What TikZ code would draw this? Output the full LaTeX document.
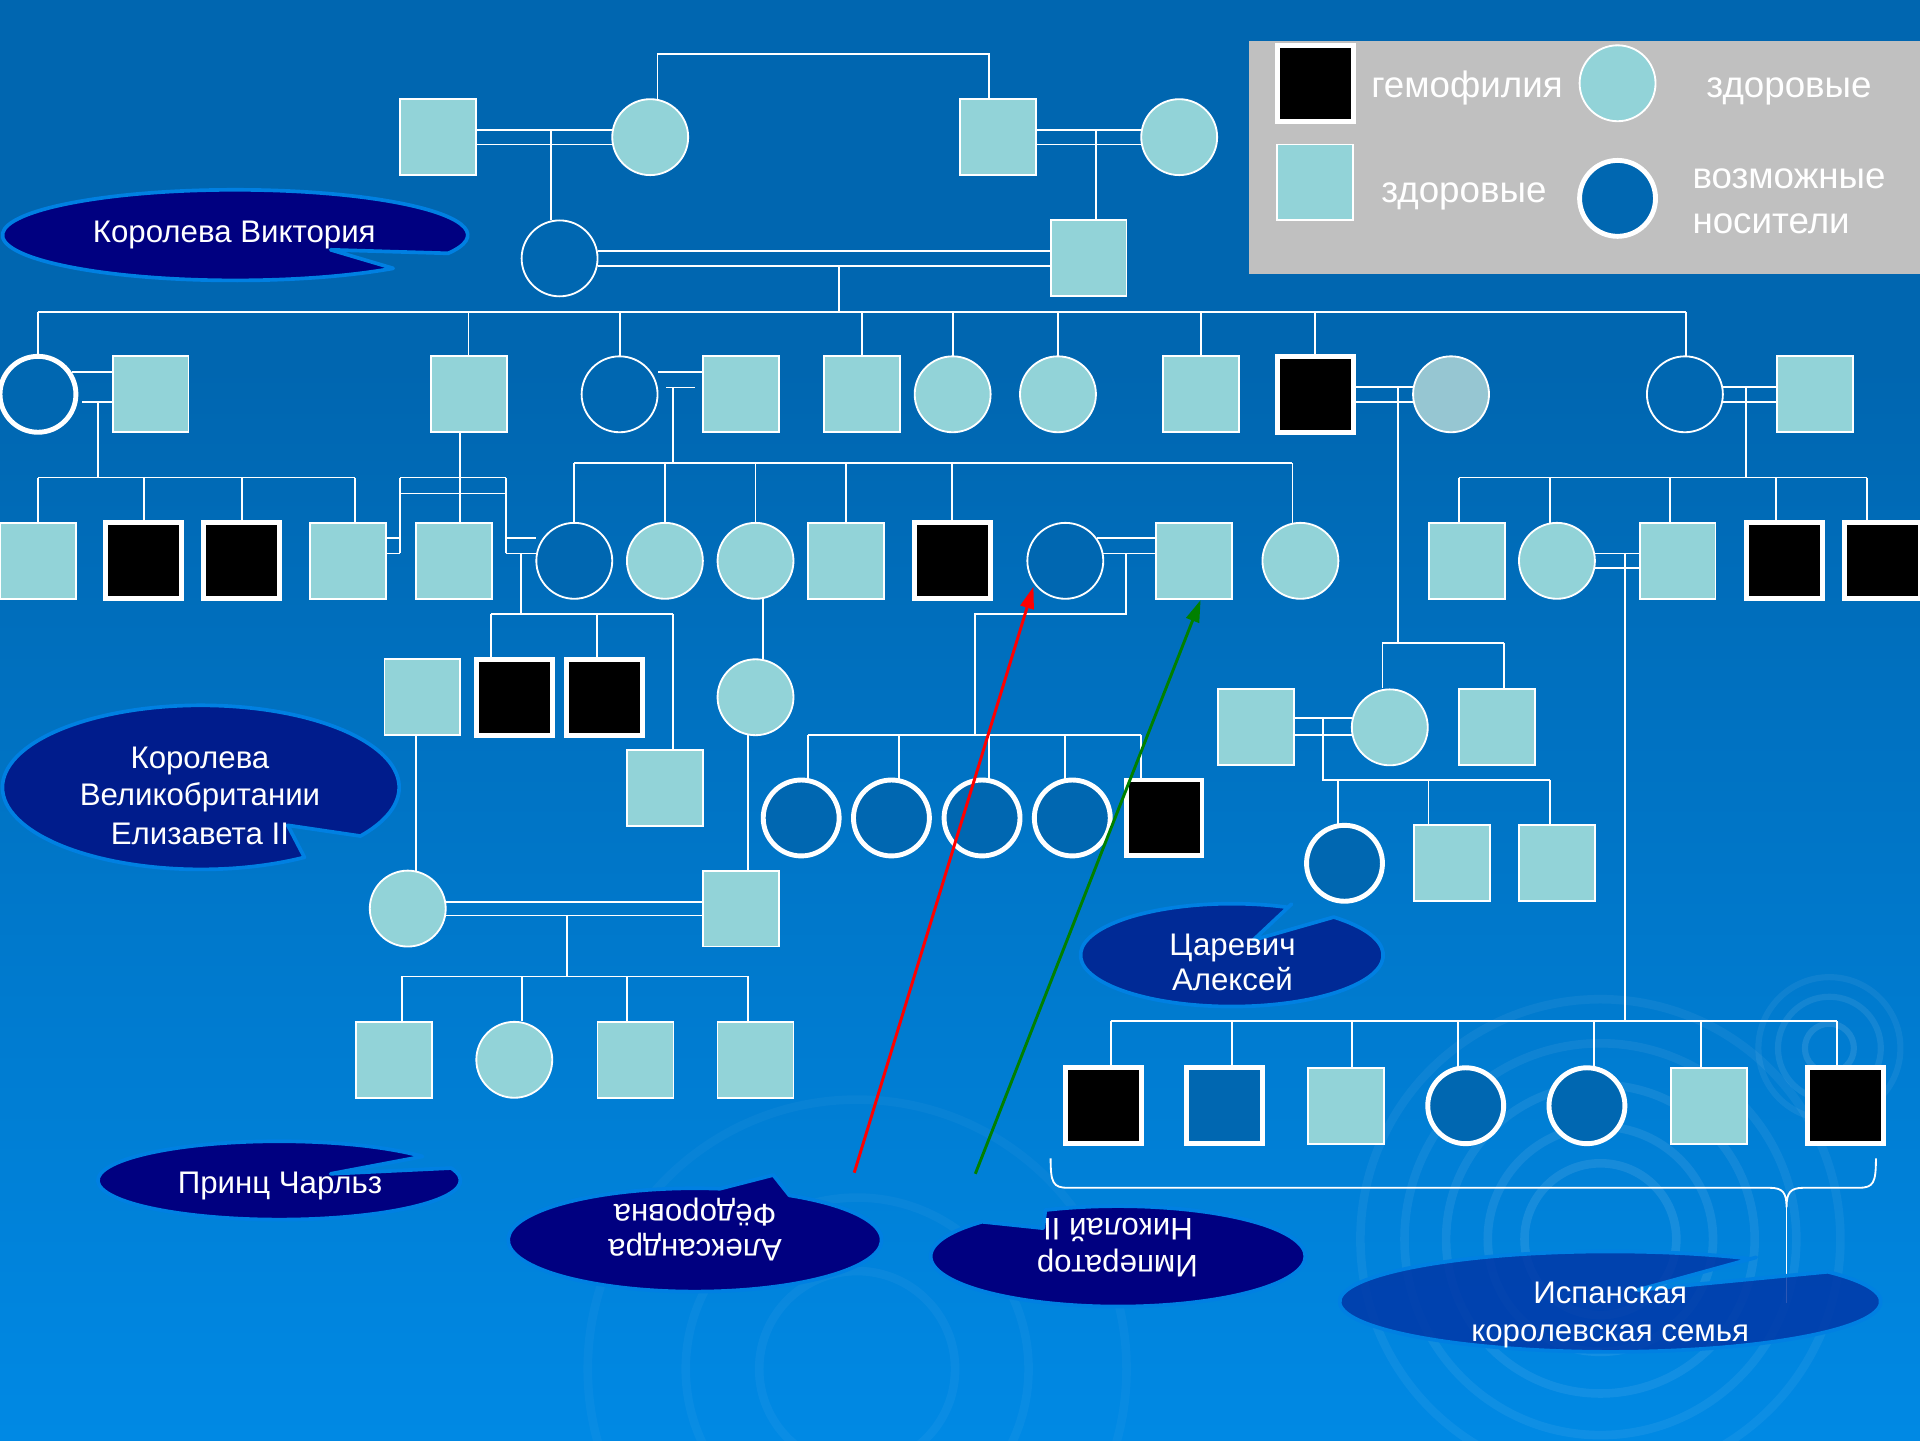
\documentclass[tikz,border=0pt]{standalone}
\usepackage{fontspec}
\setmainfont{Liberation Sans}
\usetikzlibrary{arrows.meta}
\definecolor{bgtop}{RGB}{0,102,176}
\definecolor{bgbot}{RGB}{0,137,228}
\definecolor{cyanf}{RGB}{146,211,216}
\definecolor{grayc}{RGB}{150,198,210}
\definecolor{carrier}{RGB}{0,103,177}
\definecolor{navyc}{RGB}{0,0,128}
\definecolor{navyb}{RGB}{0,28,140}
\definecolor{navyd}{RGB}{0,42,150}
\definecolor{spanc}{RGB}{0,52,165}
\definecolor{cedge}{RGB}{0,128,226}
\definecolor{legendgray}{RGB}{192,192,192}
\definecolor{arrgreen}{RGB}{0,128,0}
\begin{document}
\begin{tikzpicture}[x=1pt,y=-1pt,
 ln/.style={draw=white,line width=1.5pt},
 hsq/.style={rectangle,draw=white,line width=1.5pt,fill=cyanf,minimum size=62pt,inner sep=0pt},
 hci/.style={circle,draw=white,line width=1.5pt,fill=cyanf,minimum size=62pt,inner sep=0pt},
 asq/.style={rectangle,draw=white,line width=4pt,fill=black,minimum size=62pt,inner sep=0pt},
 bsq/.style={rectangle,draw=white,line width=4pt,fill=carrier,minimum size=62pt,inner sep=0pt},
 cthin/.style={circle,draw=white,line width=1.5pt,fill=carrier,minimum size=62pt,inner sep=0pt},
 cthick/.style={circle,draw=white,line width=4pt,fill=carrier,minimum size=62pt,inner sep=0pt},
 callout/.style={draw=cedge,line width=3pt,line join=round},
 ctext/.style={text=white,font=\fontsize{25.5}{30}\selectfont,anchor=base,inner sep=0pt},
 ltext/.style={text=white,font=\fontsize{30}{36}\selectfont,anchor=base,inner sep=0pt},
 ripple/.style={draw=white,line width=7pt},
 arr/.style={line width=2.4pt,-{Triangle[length=18pt,width=11pt]}}
]
\useasboundingbox (0,0) rectangle (1568,1176);
% background
\fill[bgtop] (0,0) rectangle (1568,301);
\shade[top color=bgtop,bottom color=bgbot] (0,300) rectangle (1568,1176);
% ripples
\begin{scope}
\clip (0,0) rectangle (1568,1176);
\foreach \r/\o in {62/0.09,92/0.08,126/0.07,160/0.06,196/0.05}
  \draw[ripple,opacity=\o] (1307,1012) circle[radius=\r];
\foreach \r/\o in {20/0.1,42/0.08,58/0.06}
  \draw[ripple,line width=5pt,opacity=\o] (1494,856) circle[radius=\r];
\foreach \r/\o in {80/0.04,140/0.035,220/0.03}
  \draw[ripple,opacity=\o] (700,1118) circle[radius=\r];
\end{scope}

% ---------- lines ----------
% gen I
\draw[ln] (537,81) -- (537,44) -- (808,44) -- (808,81);
\draw[ln] (389,106) -- (500,106) (389,118) -- (500,118);
\draw[ln] (450,106) -- (450,180);
\draw[ln] (846,106) -- (932,106) (846,118) -- (932,118);
\draw[ln] (895,106) -- (895,180);
% gen II
\draw[ln] (488,205) -- (858,205) (488,217) -- (858,217);
\draw[ln] (685,217) -- (685,254.5);
\draw[ln] (31,254.5) -- (1376.6,254.5);
\foreach \x in {31,382.6,506,704,778,864,981,1074,1376.6} \draw[ln] (\x,254.5) -- (\x,291);
% gen III marriages
\draw[ln] (59,304) -- (92,304) (67,328.5) -- (92,328.5);
\draw[ln] (80,328.5) -- (80,390);
\draw[ln] (537.6,303.5) -- (574,303.5) (544,316.4) -- (567.6,316.4);
\draw[ln] (549.4,316.4) -- (549.4,378);
\draw[ln] (1106,316) -- (1155,316) (1106,328.5) -- (1155,328.5);
\draw[ln] (1142,316) -- (1142,525.4);
\draw[ln] (1402.6,316) -- (1451,316) (1402.6,328.5) -- (1451,328.5);
\draw[ln] (1426,316) -- (1426,390);
% gen IV
\draw[ln] (31,390) -- (290,390);
\foreach \x in {31,117.5,197.5,290} \draw[ln] (\x,390) -- (\x,427);
\draw[ln] (327,390) -- (413,390) (327,403) -- (413,403);
\draw[ln] (327,390) -- (327,452) (413,390) -- (413,452);
\draw[ln] (315,439.5) -- (327,439.5) (315,452) -- (327,452);
\draw[ln] (413,439.5) -- (438,439.5) (413,452) -- (438,452);
\draw[ln] (376,353) -- (376,427);
\draw[ln] (425.6,452) -- (425.6,501.4);
\draw[ln] (401,501.4) -- (549.6,501.4);
\draw[ln] (401,501.4) -- (401,538) (487.6,501.4) -- (487.6,538) (549.6,501.4) -- (549.6,612);
\draw[ln] (469,378) -- (1055.5,378);
\foreach \x in {469,543,617,691,777.6,1055.5} \draw[ln] (\x,378) -- (\x,427);
\draw[ln] (895.5,439.5) -- (944,439.5) (900.5,452) -- (944,452);
\draw[ln] (919.6,452) -- (919.6,501.4) -- (796.5,501.4) -- (796.5,600);
\draw[ln] (660,600) -- (931.5,600);
\foreach \x in {660,734,808,870,931.5} \draw[ln] (\x,600) -- (\x,636);
\draw[ln] (1191.5,390) -- (1524.7,390);
\foreach \x in {1191.5,1266,1364,1450.5,1524.7} \draw[ln] (\x,390) -- (\x,427);
\draw[ln] (1302.6,452) -- (1339,452) (1302.6,464) -- (1339,464);
\draw[ln] (1327,452) -- (1327,834);
% Leopold branch
\draw[ln] (1129,525.4) -- (1228,525.4);
\draw[ln] (1129,525.4) -- (1129,562) (1228,525.4) -- (1228,562);
\draw[ln] (1056.5,586.6) -- (1104,586.6) (1056.5,600) -- (1104,600);
\draw[ln] (1080.5,586.6) -- (1080.5,637) -- (1265.6,637);
\foreach \x in {1092.5,1166.6,1265.6} \draw[ln] (\x,637) -- (\x,673.7);
% gen V / VI
\draw[ln] (623,489) -- (623,538);
\draw[ln] (339.6,600) -- (339.6,711) (611,600) -- (611,711);
\draw[ln] (364,736.4) -- (574,736.4) (364,747.6) -- (574,747.6);
\draw[ln] (463,747.6) -- (463,797.4);
\draw[ln] (328,797.4) -- (611,797.4);
\foreach \x in {328,426,512,611} \draw[ln] (\x,797.4) -- (\x,834);
% Spanish
\draw[ln] (907,834) -- (1500,834);
\foreach \x in {907,1006,1104,1191,1302,1389,1500} \draw[ln] (\x,834) -- (\x,872);
% brace
\draw[ln] (858,946) .. controls (858,966) and (860,970) .. (872,970) -- (1445,970)
  .. controls (1456,970) and (1459,974) .. (1459,986)
  .. controls (1459,974) and (1462,970) .. (1473,970) -- (1518,970)
  .. controls (1530,970) and (1532,966) .. (1532,946);
\draw[ln] (1459,986) -- (1459,1064);

% ---------- nodes ----------
\node[hsq] (a1) at (358,112) {};
\node[hci] (a2) at (531,112) {};
\node[hsq] (a3) at (815,112) {};
\node[hci] (a4) at (963,112) {};
\node[cthin] (b1) at (457,211) {};
\node[hsq] (b2) at (889,211) {};
\node[cthick] (c1) at (31,322) {};
\node[hsq] (c2) at (123,322) {};
\node[hsq] (c3) at (383,322) {};
\node[cthin] (c4) at (506,322) {};
\node[hsq] (c5) at (605,322) {};
\node[hsq] (c6) at (704,322) {};
\node[hci] (c7) at (778,322) {};
\node[hci] (c8) at (864,322) {};
\node[hsq] (c9) at (981,322) {};
\node[asq] (c10) at (1074,322) {};
\node[hci,fill=grayc] (c11) at (1185,322) {};
\node[cthin] (c12) at (1376,322) {};
\node[hsq] (c13) at (1482,322) {};
\node[hsq] (d1) at (31,458) {};
\node[asq] (d2) at (117.5,458) {};
\node[asq] (d3) at (197.5,458) {};
\node[hsq] (d4) at (284,458) {};
\node[hsq] (d5) at (370.5,458) {};
\node[cthin] (d6) at (469,458) {};
\node[hci] (d7) at (543,458) {};
\node[hci] (d8) at (617,458) {};
\node[hsq] (d9) at (691,458) {};
\node[asq] (d10) at (777.7,458) {};
\node[cthin] (d11) at (870,458) {};
\node[hsq] (d12) at (975,458) {};
\node[hci] (d13) at (1062,458) {};
\node[hsq] (d14) at (1198,458) {};
\node[hci] (d15) at (1271.5,458) {};
\node[hsq] (d16) at (1370,458) {};
\node[asq] (d17) at (1457,458) {};
\node[asq] (d18) at (1537,458) {};
\node[hsq] (e1) at (345,569.4) {};
\node[asq] (e2) at (420,569.4) {};
\node[asq] (e3) at (493.7,569.4) {};
\node[hsq] (e4) at (543,643.5) {};
\node[hci] (e5) at (617,569.4) {};
\node[cthick] (r1) at (654.3,668) {};
\node[cthick] (r2) at (728,668) {};
\node[cthick] (r3) at (802,668) {};
\node[cthick] (r4) at (875.7,668) {};
\node[asq] (r5) at (950.6,668) {};
\node[hsq] (l1) at (1025.5,594) {};
\node[hci] (l2) at (1135,594) {};
\node[hsq] (l3) at (1222.7,594) {};
\node[cthick] (m1) at (1098,705) {};
\node[hsq] (m2) at (1185.5,705) {};
\node[hsq] (m3) at (1271.5,705) {};
\node[hci] (f1) at (333,742) {};
\node[hsq] (f2) at (605,742) {};
\node[hsq] (g1) at (321.5,865.5) {};
\node[hci] (g2) at (420,865.5) {};
\node[hsq] (g3) at (519,865.5) {};
\node[hsq] (g4) at (617,865.5) {};
\node[asq] (h1) at (901,903) {};
\node[bsq] (h2) at (1000,903) {};
\node[hsq] (h3) at (1099,903) {};
\node[cthick] (h4) at (1197,903) {};
\node[cthick] (h5) at (1296,903) {};
\node[hsq] (h6) at (1395.5,903) {};
\node[asq] (h7) at (1507,903) {};

% ---------- legend ----------
\fill[legendgray] (1020,33.5) rectangle (1568,223.5);
\node[asq] (k1) at (1074,68) {};
\node[hci] (k2) at (1321,68) {};
\node[hsq] (k3) at (1074,149) {};
\node[cthick] (k4) at (1321,162) {};
\node[ltext] (kt1) at (1198,80) {гемофилия};
\node[ltext] (kt2) at (1461,80) {здоровые};
\node[ltext] (kt3) at (1195.5,165) {здоровые};
\node[ltext,anchor=base west] (kt4) at (1382,154) {возможные};
\node[ltext,anchor=base west] (kt5) at (1382,190.5) {носители};

% ---------- arrows ----------
\coordinate (ra) at (697.6,957.7);
\coordinate (ga) at (796.5,958.6);
\draw[arr,red] (ra) -- (844,479);
\draw[arr,arrgreen] (ga) -- (980.5,490);

% ---------- callouts ----------
\filldraw[callout,fill=navyc] (192,192) ++(47.2:190 and 37)
  arc[start angle=47.2,end angle=383.7,x radius=190,y radius=37] -- (270,204) -- cycle;
\filldraw[callout,fill=navyb] (164,643) ++(58.5:162 and 67)
  arc[start angle=58.5,end angle=396.4,x radius=162,y radius=67] -- (235,674) -- cycle;
\filldraw[callout,fill=navyc] (228,964) ++(-18.4:148 and 32)
  arc[start angle=-18.4,end angle=322.3,x radius=148,y radius=32] -- (270,958.6) -- cycle;
\filldraw[callout,fill=navyc] (567.5,1012.6) ++(300.4:152.5 and 42.2)
  arc[start angle=300.4,end angle=637.7,x radius=152.5,y radius=42.2] -- (631.5,959.6) -- cycle;
\filldraw[callout,fill=navyc] (913,1026) ++(247.2:153 and 41)
  arc[start angle=247.2,end angle=583.5,x radius=153,y radius=41] -- (852,1003) -- cycle;
\filldraw[callout,fill=navyd] (1006,780) ++(312.3:123.6 and 42)
  arc[start angle=312.3,end angle=651.7,x radius=123.6,y radius=42] -- (1054.8,738.3) -- (1023.5,767.7) -- cycle;
\filldraw[callout,fill=spanc,fill opacity=0.82] (1315,1063) ++(323.5:221 and 41)
  arc[start angle=323.5,end angle=661.4,x radius=221,y radius=41] -- (1434.3,1026.8) -- (1337.4,1053.5) -- cycle;

\node[ctext] (t1) at (191.3,198.2) {Королева Виктория};
\node[ctext] (t2a) at (163.3,627.5) {Королева};
\node[ctext] (t2b) at (163.3,658) {Великобритании};
\node[ctext] (t2c) at (163.3,689.3) {Елизавета II};
\node[ctext] (t3) at (228.7,974.6) {Принц Чарльз};
\node[ctext,rotate=180] (t4a) at (567.6,984) {Фёдоровна};
\node[ctext,rotate=180] (t4b) at (567.6,1012) {Александра};
\node[ctext,rotate=180] (t5a) at (913,995) {Николай II};
\node[ctext,rotate=180] (t5b) at (912.6,1025) {Император};
\node[ctext] (t6a) at (1006.5,780.7) {Царевич};
\node[ctext] (t6b) at (1006.5,809.3) {Алексей};
\node[ctext] (t7a) at (1315,1064.4) {Испанская};
\node[ctext] (t7b) at (1315,1095.5) {королевская семья};
\end{tikzpicture}
\end{document}
